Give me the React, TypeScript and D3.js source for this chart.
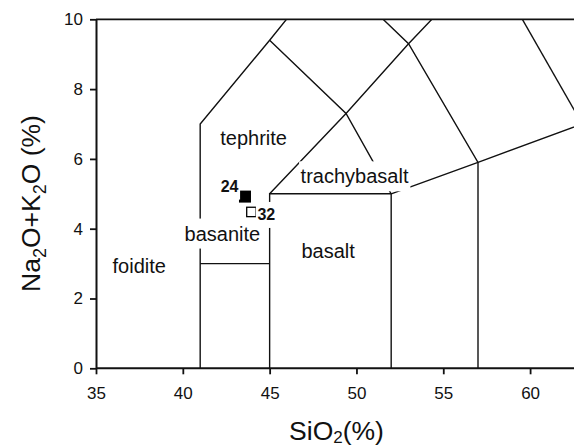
import React, { useEffect, useRef } from 'react';
import * as d3 from 'd3';

// Axis ticks
const xTicks = [35, 40, 45, 50, 55, 60];
const yTicks = [0, 2, 4, 6, 8, 10];

// TAS field boundaries (SiO2, Na2O+K2O)
const boundaryFoidite: [number, number][] = [[41, 0], [41, 7], [45, 9.4], [48.4, 11.5]];
const boundaryPicro: [number, number][] = [[41, 3], [45, 3]];
const boundaryBasalt: [number, number][] = [[45, 0], [45, 5], [52, 5], [52, 0]];
const boundaryTrachy: [number, number][] = [[45, 5], [49.4, 7.3], [53, 9.3], [57.6, 11.7]];
const boundaryTephrite: [number, number][] = [[45, 9.4], [49.4, 7.3], [52, 5]];
const boundaryPhono: [number, number][] = [[48.4, 11.5], [53, 9.3], [57, 5.9], [57, 0]];
const boundaryAndesite: [number, number][] = [[52, 5], [57, 5.9], [63, 7]];
const boundaryTrachyAnd: [number, number][] = [[57.6, 11.7], [63, 7]];
const boundaries = [
  boundaryFoidite, boundaryPicro, boundaryBasalt, boundaryTrachy,
  boundaryTephrite, boundaryPhono, boundaryAndesite, boundaryTrachyAnd,
];

// Field names and their anchor (start x, baseline y) in data units
const fieldNames = ['tephrite', 'foidite', 'basanite', 'basalt', 'trachybasalt'];
const fieldSiO2 = [42.2, 36.0, 40.15, 46.88, 46.83];
const fieldAlk = [6.4, 2.72, 3.66, 3.15, 5.3];

// Samples
const sampleIds = ['24', '32'];
const sampleSiO2 = [43.58, 43.95];
const sampleAlk = [4.92, 4.48];
const sampleFilled = [true, false];

const W = 574;
const H = 447;
const FONT = '"Liberation Sans", Arial, Helvetica, sans-serif';

export default function App() {
  const ref = useRef<SVGSVGElement | null>(null);

  useEffect(() => {
    const svg = d3.select(ref.current);
    svg.selectAll('*').remove();

    const left = 96, right = 573.5, top = 19.3, bottom = 368.3;
    const x = d3.scaleLinear().domain([35, 62.5]).range([left, right]);
    const y = d3.scaleLinear().domain([0, 10]).range([bottom, top]);

    svg.append('rect').attr('width', W).attr('height', H).attr('fill', '#fff');

    svg.append('defs').append('clipPath').attr('id', 'plotclip')
      .append('rect').attr('x', left).attr('y', top)
      .attr('width', W - left).attr('height', bottom - top);

    const plot = svg.append('g').attr('clip-path', 'url(#plotclip)');
    const line = d3.line<[number, number]>().x(d => x(d[0])).y(d => y(d[1]));
    boundaries.forEach(b => {
      plot.append('path').attr('d', line(b) as string)
        .attr('fill', 'none').attr('stroke', '#111').attr('stroke-width', 1.4);
    });

    const addMaskedText = (
      parent: d3.Selection<SVGGElement, unknown, null, undefined>,
      txt: string, tx: number, ty: number, size: number, weight: string, anchor: string
    ) => {
      const g = parent.append('g');
      const t = g.append('text').attr('x', tx).attr('y', ty)
        .attr('font-family', FONT).attr('font-size', size).attr('font-weight', weight)
        .attr('text-anchor', anchor).attr('fill', '#111').text(txt);
      const bb = (t.node() as SVGTextElement).getBBox();
      g.insert('rect', 'text')
        .attr('x', bb.x - 1.5).attr('width', bb.width + 3)
        .attr('y', ty - size - 2).attr('height', size + 10)
        .attr('fill', '#fff');
    };

    const labels = svg.append('g');
    fieldNames.forEach((n, i) => {
      addMaskedText(labels, n, x(fieldSiO2[i]) - 0.8, y(fieldAlk[i]), 20, 'normal', 'start');
    });

    // samples
    const samp = svg.append('g');
    sampleIds.forEach((id, i) => {
      const cx = x(sampleSiO2[i]);
      const cy = y(sampleAlk[i]);
      if (sampleFilled[i]) {
        samp.append('rect').attr('x', cx - 6).attr('y', cy - 6).attr('width', 12).attr('height', 12)
          .attr('fill', '#000');
        addMaskedText(samp, id, cx - 6.5, cy - 5, 16, 'bold', 'end');
      } else {
        samp.append('rect').attr('x', cx - 4.7).attr('y', cy - 4.7).attr('width', 9.4).attr('height', 9.4)
          .attr('fill', '#fff').attr('stroke', '#000').attr('stroke-width', 1.3);
        addMaskedText(samp, id, cx + 6, cy + 8, 16, 'bold', 'start');
      }
    });

    // frame top
    svg.append('line').attr('x1', left).attr('x2', W).attr('y1', top).attr('y2', top)
      .attr('stroke', '#111').attr('stroke-width', 1.8);

    // axes
    const xAxis = svg.append('g').attr('transform', `translate(0,${bottom})`)
      .call(d3.axisBottom(x).tickValues(xTicks).tickSize(6).tickSizeOuter(0).tickFormat(d3.format('d')));
    xAxis.select('.domain').attr('stroke', '#111').attr('stroke-width', 2).attr('d', `M${left},0H${W}`);
    xAxis.selectAll('.tick line').attr('stroke', '#111').attr('stroke-width', 1.8);
    xAxis.selectAll('.tick text').attr('y', 19).attr('dy', '0.71em')
      .attr('font-family', FONT).attr('font-size', 17).attr('fill', '#111');

    const yAxis = svg.append('g').attr('transform', `translate(${left},0)`)
      .call(d3.axisLeft(y).tickValues(yTicks).tickSize(6).tickSizeOuter(0).tickPadding(7).tickFormat(d3.format('d')));
    yAxis.select('.domain').attr('stroke', '#111').attr('stroke-width', 2);
    yAxis.selectAll('.tick line').attr('stroke', '#111').attr('stroke-width', 1.8);
    yAxis.selectAll('.tick text')
      .attr('font-family', FONT).attr('font-size', 17).attr('fill', '#111');
    xAxis.attr('font-size', null).attr('font-family', null);
    yAxis.attr('font-size', null).attr('font-family', null);

    // axis titles
    const xt = svg.append('text').attr('x', 336.5).attr('y', 439.5)
      .attr('text-anchor', 'middle').attr('font-family', FONT).attr('font-size', 26.5).attr('fill', '#111');
    xt.append('tspan').text('SiO');
    xt.append('tspan').attr('font-size', 17).attr('dy', 3.5).text('2');
    xt.append('tspan').attr('dy', -3.5).text('(%)');

    const yt = svg.append('text').attr('transform', `translate(40,203.5) rotate(-90)`)
      .attr('text-anchor', 'middle').attr('font-family', FONT).attr('font-size', 26.5).attr('fill', '#111');
    yt.append('tspan').text('Na');
    yt.append('tspan').attr('font-size', 18).attr('dy', 6).text('2');
    yt.append('tspan').attr('dy', -6).text('O+K');
    yt.append('tspan').attr('font-size', 18).attr('dy', 6).text('2');
    yt.append('tspan').attr('dy', -6).text('O (%)');
  }, []);

  return (
    <div style={{ position: 'absolute', left: 0, top: 0 }}>
      <svg ref={ref} width={W} height={H} style={{ display: 'block' }} />
    </div>
  );
}
